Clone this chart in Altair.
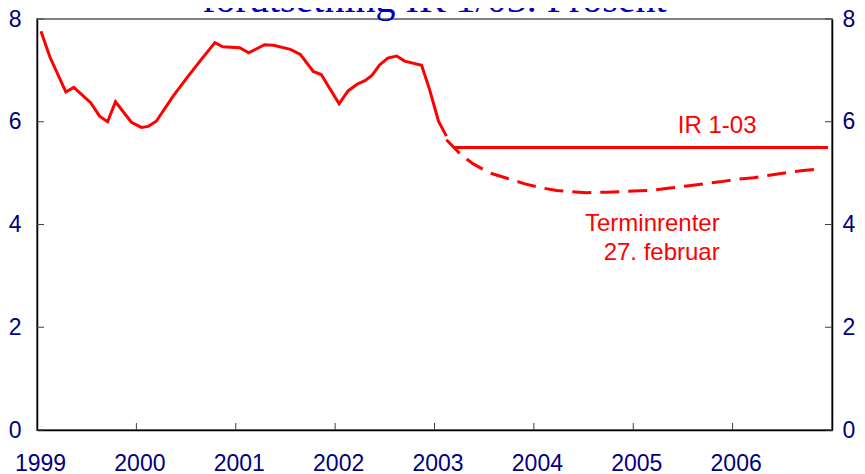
import altair as alt
import pandas as pd

# ---- data ----
hist_t = [1999.04, 1999.13, 1999.29, 1999.37, 1999.54, 1999.63, 1999.71, 1999.79,
          1999.95, 2000.05, 2000.12, 2000.20, 2000.37, 2000.51, 2000.64, 2000.79,
          2000.87, 2001.04, 2001.13, 2001.29, 2001.38, 2001.55, 2001.65, 2001.78,
          2001.86, 2002.04, 2002.13, 2002.22, 2002.30, 2002.37, 2002.45, 2002.53,
          2002.62, 2002.70, 2002.87, 2002.95, 2003.04, 2003.12]
hist_v = [7.76, 7.26, 6.58, 6.67, 6.37, 6.11, 6.00, 6.39,
          5.99, 5.89, 5.91, 6.01, 6.50, 6.86, 7.18, 7.54,
          7.46, 7.44, 7.34, 7.50, 7.49, 7.41, 7.31, 6.98,
          6.92, 6.35, 6.60, 6.73, 6.80, 6.90, 7.11, 7.24,
          7.28, 7.18, 7.10, 6.63, 6.01, 5.72]

ir_t = [2003.20, 2006.96]
ir_v = [5.5, 5.5]

fwd_t = [2003.12, 2003.26, 2003.39, 2003.56, 2003.73, 2003.91, 2004.06, 2004.23,
         2004.38, 2004.53, 2004.73, 2005.00, 2005.20, 2005.37, 2005.54, 2005.70,
         2005.87, 2006.04, 2006.21, 2006.37, 2006.54, 2006.71, 2006.90]
fwd_v = [5.65, 5.37, 5.18, 5.00, 4.90, 4.79, 4.72, 4.66,
         4.64, 4.62, 4.63, 4.65, 4.67, 4.71, 4.75, 4.79,
         4.83, 4.88, 4.91, 4.96, 5.01, 5.05, 5.09]

year_labels = [1999, 2000, 2001, 2002, 2003, 2004, 2005, 2006]
year_ticks = [2000, 2001, 2002, 2003, 2004, 2005, 2006]
y_ticks = [0, 2, 4, 6, 8]

title_text = "forutsetning IR 1/03. Prosent"
ann_text = ["IR 1-03", "Terminrenter", "27. februar"]
ann_t = [2006.24, 2005.87, 2005.87]
ann_v = [5.78, 3.87, 3.31]

# ---- styling ----
W, H = 795, 411
RED = "#FF0000"
LABEL = "#000080"
FONT = "Liberation Sans"

hist = pd.DataFrame({"t": hist_t, "v": hist_v})
ir = pd.DataFrame({"t": ir_t, "v": ir_v})
fwd = pd.DataFrame({"t": fwd_t, "v": fwd_v})
yt = pd.DataFrame({"v": y_ticks})
xt = pd.DataFrame({"t": year_ticks})
ann = pd.DataFrame({"s": ann_text, "t": ann_t, "v": ann_v})
ttl = pd.DataFrame({"s": [title_text]})

xaxis = alt.Axis(values=year_labels, format="d", ticks=False, grid=False,
                 domainColor="black", domainWidth=1.5, labelPadding=22,
                 labelFontSize=23, labelColor=LABEL, labelFont=FONT, labelOffset=3,
                 labelFlush=False, labelOverlap=False, labelBound=False, title=None)
X = alt.X("t:Q", scale=alt.Scale(domain=[1999, 2007], nice=False, zero=False), axis=xaxis)
YS = alt.Scale(domain=[0, 8], nice=False)

def yaxis(orient, pad):
    return alt.Axis(orient=orient, values=y_ticks, ticks=False, grid=False,
                    domainColor="black", domainWidth=1.5, labelPadding=pad,
                    labelFontSize=23, labelColor=LABEL, labelFont=FONT, title=None,
                    labelFlush=False, labelOverlap=False, labelBound=False)

hist_line = alt.Chart(hist).mark_line(color=RED, strokeWidth=3).encode(
    x=X, y=alt.Y("v:Q", scale=YS, axis=yaxis("left", 16)))

ir_line = alt.Chart(ir).mark_line(color=RED, strokeWidth=3).encode(
    x=X, y=alt.Y("v:Q", scale=YS, axis=None))

fwd_line = alt.Chart(fwd).mark_line(color=RED, strokeWidth=3, strokeDash=[19, 9]).encode(
    x=X, y=alt.Y("v:Q", scale=YS, axis=None))

left_ticks = alt.Chart(yt).mark_rule(color="#404040", strokeWidth=1).encode(
    y=alt.Y("v:Q", scale=YS, axis=None), x=alt.value(0), x2=alt.value(7))

right_ticks = alt.Chart(yt).mark_rule(color="#404040", strokeWidth=1).encode(
    y=alt.Y("v:Q", scale=YS, axis=yaxis("right", 10)), x=alt.value(W - 7), x2=alt.value(W))

bottom_ticks = alt.Chart(xt).mark_rule(color="#404040", strokeWidth=1).encode(
    x=X, y=alt.value(H - 7), y2=alt.value(H))

labels = alt.Chart(ann).mark_text(color=RED, font=FONT, fontSize=24, align="right",
                                  baseline="alphabetic").encode(
    x=X, y=alt.Y("v:Q", scale=YS, axis=None), text="s:N")

title = alt.Chart(ttl).mark_text(color="#0000C0", font="Liberation Serif", fontSize=40,
                                 align="center", baseline="alphabetic").encode(
    x=alt.value(W / 2), y=alt.value(-7), text="s:N")

chart = alt.layer(
    hist_line, ir_line, fwd_line, left_ticks, right_ticks, bottom_ticks, labels, title
).resolve_axis(y="independent").properties(
    width=W, height=H,
    padding={"left": 29, "top": 11, "right": 25, "bottom": 44},
    autosize=alt.AutoSizeParams(type="none"),
    background="white",
).configure_view(stroke="#808080", strokeWidth=2)

chart.save("out.html", embed_options={"renderer": "svg", "actions": False})
